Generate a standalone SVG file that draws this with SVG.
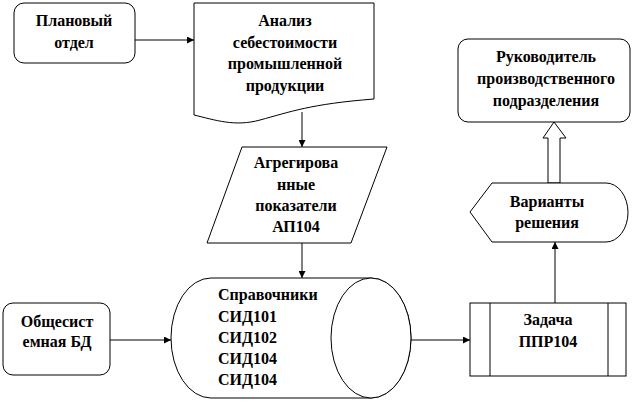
<svg xmlns="http://www.w3.org/2000/svg" width="642" height="402" viewBox="0 0 642 402">
<style>
.s{fill:#fff;stroke:#000;stroke-width:1}
.l{fill:none;stroke:#000;stroke-width:1}
.c{text-anchor:middle}
.t{font-family:'Liberation Serif',serif;font-weight:700;font-size:16px}
</style>
<defs>
<marker id="a" viewBox="0 0 10 10" refX="10" refY="5" markerWidth="8" markerHeight="7" markerUnits="userSpaceOnUse" orient="auto">
<path d="M0,0 L10,5 L0,10 Z" fill="#000"/>
</marker>
</defs>
<rect width="642" height="402" fill="#fff"/>
<g id="connectors">
<line class="l" x1="135" y1="40" x2="194" y2="40" marker-end="url(#a)"/>
<line class="l" x1="302" y1="112" x2="302" y2="147" marker-end="url(#a)"/>
<line class="l" x1="302" y1="243" x2="302" y2="278" marker-end="url(#a)"/>
<line class="l" x1="110" y1="340" x2="171" y2="340" marker-end="url(#a)"/>
<line class="l" x1="411" y1="340" x2="470" y2="340" marker-end="url(#a)"/>
<line class="l" x1="555" y1="303" x2="555" y2="242" marker-end="url(#a)"/>
<path class="s" d="M548,183 L548,138 L543,138 L554,122 L566,138 L560,138 L560,183 Z"/>
</g>
<g class="t">
<g id="plan">
<rect class="s" x="14" y="3" width="121" height="60" rx="10"/>
<text class="c" x="74" y="26">Плановый</text>
<text class="c" x="74" y="48">отдел</text>
</g>
<g id="analiz">
<path class="s" d="M194,3 L374,3 L374,99 C310,104 290,112 260,120 C235,127 215,120 194,115 Z"/>
<text class="c" x="285" y="26">Анализ</text>
<text class="c" x="285" y="48">себестоимости</text>
<text class="c" x="285" y="69">промышленной</text>
<text class="c" x="285" y="91">продукции</text>
</g>
<g id="agreg">
<path class="s" d="M242,147 L387,147 L351,243 L207,243 Z"/>
<text class="c" x="296" y="168">Агрегирова</text>
<text class="c" x="296" y="190">нные</text>
<text class="c" x="296" y="211">показатели</text>
<text class="c" x="296" y="232">АП104</text>
</g>
<g id="sprav">
<path class="s" d="M211,278 L371,278 A40,60 0 0 1 371,398 L211,398 A40,60 0 0 1 211,278 Z"/>
<ellipse class="s" cx="371" cy="338" rx="40" ry="60"/>
<text x="218" y="300">Справочники</text>
<text x="218" y="322">СИД101</text>
<text x="218" y="343">СИД102</text>
<text x="218" y="364">СИД104</text>
<text x="218" y="385">СИД104</text>
</g>
<g id="obshe">
<rect class="s" x="3" y="303" width="107" height="72" rx="10"/>
<text class="c" x="57" y="327">Общесист</text>
<text class="c" x="57" y="347">емная БД</text>
</g>
<g id="zadacha">
<rect class="s" x="470" y="303" width="156" height="73"/>
<line class="l" x1="490" y1="303" x2="490" y2="376"/>
<line class="l" x1="608" y1="303" x2="608" y2="376"/>
<text class="c" x="548" y="325">Задача</text>
<text class="c" x="548" y="347">ППР104</text>
</g>
<g id="varianty">
<path class="s" d="M470,212 L492,183 L606,183 A22,29.5 0 0 1 606,242 L492,242 Z"/>
<text class="c" x="547" y="207">Варианты</text>
<text class="c" x="547" y="228">решения</text>
</g>
<g id="ruk">
<rect class="s" x="458" y="39" width="172" height="83" rx="10"/>
<text class="c" x="546" y="62">Руководитель</text>
<text class="c" x="546" y="84">производственного</text>
<text class="c" x="546" y="106">подразделения</text>
</g>
</g>
</svg>
